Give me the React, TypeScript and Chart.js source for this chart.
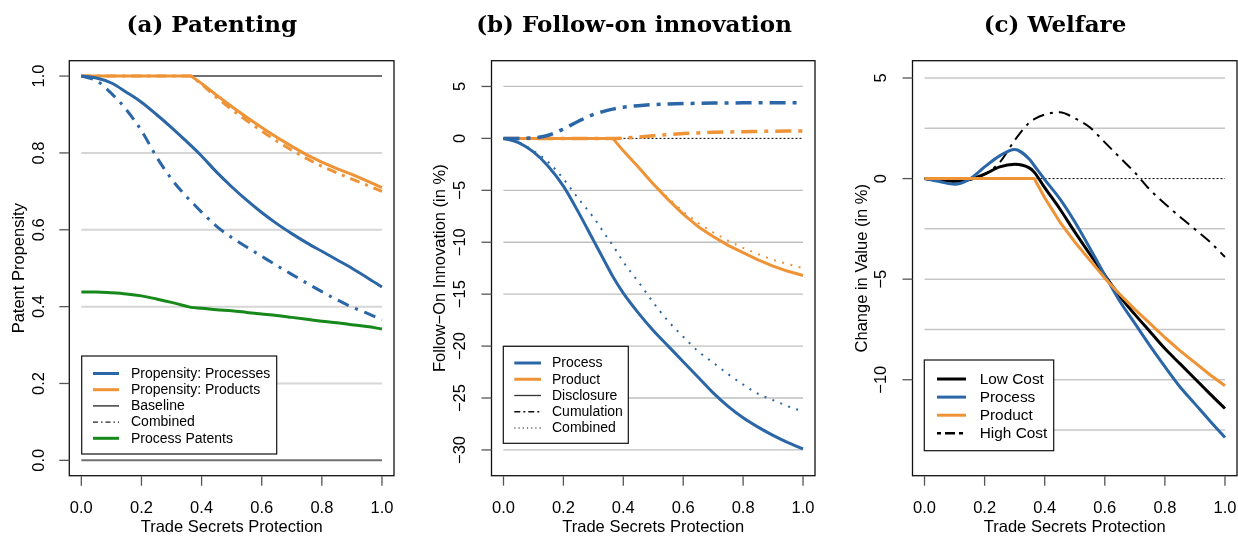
import React, { useEffect, useRef } from "react";
import { Chart, registerables } from "chart.js";

Chart.register(...registerables);

// ---------- shared x grid & ticks ----------
const XS = [0, 0.05, 0.1, 0.15, 0.2, 0.25, 0.3, 0.35, 0.365, 0.4, 0.45, 0.5, 0.55, 0.6, 0.65, 0.7, 0.75, 0.8, 0.85, 0.9, 0.95, 1.0];
const X_TICKS = [0, 0.2, 0.4, 0.6, 0.8, 1.0];
const X_TICK_LABELS = ["0.0", "0.2", "0.4", "0.6", "0.8", "1.0"];
const LINE_X = [0, 1];

// ---------- (a) Patenting ----------
const A_PROCESS = [1.0, 0.995, 0.982, 0.958, 0.932, 0.9, 0.866, 0.83, 0.819, 0.792, 0.75, 0.712, 0.677, 0.645, 0.616, 0.59, 0.566, 0.544, 0.522, 0.5, 0.476, 0.451];
const A_PROCESS_COMB = [1.0, 0.988, 0.955, 0.912, 0.858, 0.79, 0.732, 0.686, 0.674, 0.646, 0.609, 0.58, 0.555, 0.531, 0.507, 0.484, 0.461, 0.439, 0.418, 0.399, 0.383, 0.366];
const A_PRODUCT = [1, 1, 1, 1, 1, 1, 1, 1, 1, 0.981, 0.95, 0.921, 0.893, 0.866, 0.841, 0.817, 0.795, 0.776, 0.759, 0.744, 0.727, 0.71];
const A_PRODUCT_COMB = [1, 1, 1, 1, 1, 1, 1, 1, 1, 0.979, 0.944, 0.913, 0.884, 0.857, 0.831, 0.807, 0.785, 0.765, 0.748, 0.732, 0.716, 0.7];
const A_PATENTS = [0.438, 0.438, 0.436, 0.433, 0.428, 0.42, 0.411, 0.401, 0.398, 0.396, 0.392, 0.389, 0.385, 0.381, 0.377, 0.372, 0.367, 0.362, 0.358, 0.353, 0.348, 0.342];
const A_BASE_TOP = [1, 1];
const A_BASE_BOTTOM = [0, 0];
const A_Y_TICKS = [0, 0.2, 0.4, 0.6, 0.8, 1.0];
const A_Y_LABELS = ["0.0", "0.2", "0.4", "0.6", "0.8", "1.0"];
const A_GRID = [0.2, 0.4, 0.6, 0.8];

// ---------- (b) Follow-on innovation ----------
const B_PROCESS = [0, -0.4, -1.3, -2.7, -4.6, -7.1, -9.8, -12.5, -13.3, -14.9, -16.8, -18.5, -20.0, -21.5, -23.0, -24.5, -25.8, -26.9, -27.8, -28.6, -29.3, -29.9];
const B_PROCESS_COMB = [0, -0.35, -1.2, -2.3, -3.9, -5.8, -7.6, -9.7, -10.3, -11.9, -13.8, -15.8, -17.6, -19.1, -20.5, -21.6, -22.7, -23.7, -24.6, -25.2, -25.8, -26.3];
const B_PROCESS_CUM = [0, 0, 0.05, 0.3, 0.9, 1.65, 2.3, 2.72, 2.82, 3.0, 3.15, 3.25, 3.31, 3.35, 3.38, 3.4, 3.41, 3.42, 3.43, 3.43, 3.43, 3.43];
const B_PRODUCT = [0, 0, 0, 0, 0, 0, 0, 0, 0, -1.2, -2.75, -4.4, -5.9, -7.3, -8.5, -9.45, -10.3, -11.0, -11.7, -12.3, -12.8, -13.2];
const B_PRODUCT_COMB = [0, 0, 0, 0, 0, 0, 0, 0, 0, -1.2, -2.7, -4.35, -5.75, -7.05, -8.15, -9.05, -9.85, -10.55, -11.15, -11.7, -12.1, -12.5];
const B_PRODUCT_CUM = [0, 0, 0, 0, 0, 0, 0, 0, 0, 0.03, 0.12, 0.25, 0.37, 0.46, 0.53, 0.58, 0.62, 0.65, 0.67, 0.69, 0.7, 0.7];
const B_ZERO = [0, 0];
const B_Y_TICKS = [-30, -25, -20, -15, -10, -5, 0, 5];
const B_Y_LABELS = ["\u221230", "\u221225", "\u221220", "\u221215", "\u221210", "\u22125", "0", "5"];
const B_GRID = [5, -5, -10, -15, -20, -25, -30];

// ---------- (c) Welfare ----------
const C_LOW = [0, -0.08, -0.13, -0.05, 0.22, 0.58, 0.71, 0.52, 0.32, -0.45, -1.5, -2.65, -3.75, -4.8, -5.85, -6.75, -7.6, -8.45, -9.2, -9.95, -10.7, -11.43];
const C_PROCESS = [0, -0.15, -0.28, -0.03, 0.58, 1.13, 1.45, 0.95, 0.65, -0.05, -1.0, -2.15, -3.45, -4.8, -6.1, -7.2, -8.3, -9.35, -10.35, -11.2, -12.05, -12.87];
const C_PRODUCT = [0, 0, 0, 0, 0, 0, 0, 0, 0, -0.95, -2.15, -3.15, -4.05, -4.95, -5.75, -6.5, -7.2, -7.9, -8.55, -9.15, -9.75, -10.3];
const C_HIGH = [0, -0.08, -0.13, -0.05, 0.22, 0.8, 1.9, 2.8, 2.95, 3.18, 3.3, 3.0, 2.55, 1.8, 1.05, 0.3, -0.55, -1.25, -1.9, -2.52, -3.15, -3.9];
const C_ZERO = [0, 0];
const C_Y_TICKS = [-10, -5, 0, 5];
const C_Y_LABELS = ["\u221210", "\u22125", "0", "5"];
const C_GRID = [5, 2.5, -2.5, -5, -7.5, -10, -12.5];

// ---------- styles ----------
const BLUE = "#2b66a6";
const ORANGE = "#ef9337";
const GREEN = "#17891a";
const SANS = '"Liberation Sans", Arial, sans-serif';
const W = 1238;
const H = 536;
const BOX_TOP = 60.7;
const BOX_BOTTOM = 475.7;

type Item = { label: string; color: string; width: number; dash: number[] };

function ds(xs: number[], ys: number[], color: string, width: number, dash: number[] = [], straight = false) {
  return {
    data: xs.map((x, i) => ({ x, y: ys[i] })),
    borderColor: color,
    borderWidth: width,
    borderDash: dash,
    borderCapStyle: "butt",
    borderJoinStyle: "round",
    pointRadius: 0,
    pointHoverRadius: 0,
    fill: false,
    cubicInterpolationMode: straight ? "default" : "monotone",
    tension: 0,
  };
}

const PANELS = [
  {
    title: "(a) Patenting",
    boxLeft: 69.3,
    boxRight: 394,
    yMin: -0.04,
    yMax: 1.04,
    yTicks: A_Y_TICKS,
    yLabels: A_Y_LABELS,
    grid: A_GRID,
    gridColor: "#d6d6d6",
    gridWidth: 2,
    yTitle: "Patent Propensity",
    yLabelOff: 29.5,
    yTitleOff: 49.5,
    // bottom-to-top
    datasets: [
      ds(LINE_X, A_BASE_TOP, "#707070", 2),
      ds(LINE_X, A_BASE_BOTTOM, "#707070", 2),
      ds(XS, A_PRODUCT_COMB, ORANGE, 3, [10, 6, 3, 6], true),
      ds(XS, A_PRODUCT, ORANGE, 3, [], true),
      ds(XS, A_PROCESS_COMB, BLUE, 3, [12, 7, 3, 7]),
      ds(XS, A_PROCESS, BLUE, 3),
      ds(XS, A_PATENTS, GREEN, 3),
    ],
    legend: {
      left: 81.7, top: 356, right: 276.7, bottom: 454,
      row0: 373.5, step: 16.2, line0: 93, line1: 119, text: 131, font: 14,
      items: [
        { label: "Propensity: Processes", color: BLUE, width: 3, dash: [] },
        { label: "Propensity: Products", color: ORANGE, width: 3, dash: [] },
        { label: "Baseline", color: "#222", width: 1.3, dash: [] },
        { label: "Combined", color: "#222", width: 1.2, dash: [5, 3, 1.5, 3] },
        { label: "Process Patents", color: GREEN, width: 3, dash: [] },
      ] as Item[],
    },
  },
  {
    title: "(b) Follow-on innovation",
    boxLeft: 491.5,
    boxRight: 815,
    yMin: -32.48,
    yMax: 7.48,
    yTicks: B_Y_TICKS,
    yLabels: B_Y_LABELS,
    grid: B_GRID,
    gridColor: "#bfbfbf",
    gridWidth: 1.3,
    yTitle: "Follow\u2212On Innovation (in %)",
    yLabelOff: 31.5,
    yTitleOff: 51,
    datasets: [
      ds(LINE_X, B_ZERO, "#000", 1, [2, 2]),
      ds(XS, B_PRODUCT, ORANGE, 3, [], true),
      ds(XS, B_PRODUCT_COMB, ORANGE, 2, [2, 6.5], true),
      ds(XS, B_PRODUCT_CUM, ORANGE, 3.5, [16, 7, 4, 7]),
      ds(XS, B_PROCESS, BLUE, 3),
      ds(XS, B_PROCESS_COMB, BLUE, 2, [2, 6.5]),
      ds(XS, B_PROCESS_CUM, BLUE, 3.5, [16, 7, 4, 7]),
    ],
    legend: {
      left: 503.3, top: 346.3, right: 628.3, bottom: 443.3,
      row0: 363, step: 16.25, line0: 514.3, line1: 541, text: 552, font: 14,
      items: [
        { label: "Process", color: BLUE, width: 3, dash: [] },
        { label: "Product", color: ORANGE, width: 3, dash: [] },
        { label: "Disclosure", color: "#333", width: 1.3, dash: [] },
        { label: "Cumulation", color: "#111", width: 1.3, dash: [6, 3, 2, 3] },
        { label: "Combined", color: "#111", width: 1.2, dash: [1.2, 3] },
      ] as Item[],
    },
  },
  {
    title: "(c) Welfare",
    boxLeft: 912.5,
    boxRight: 1237,
    yMin: -14.77,
    yMax: 5.86,
    yTicks: C_Y_TICKS,
    yLabels: C_Y_LABELS,
    grid: C_GRID,
    gridColor: "#c6c6c6",
    gridWidth: 1.5,
    yTitle: "Change in Value (in %)",
    yLabelOff: 30.8,
    yTitleOff: 50.5,
    datasets: [
      ds(LINE_X, C_ZERO, "#000", 1, [2, 2]),
      ds(XS, C_HIGH, "#000", 2, [12, 6, 3, 6]),
      ds(XS, C_LOW, "#000", 3),
      ds(XS, C_PROCESS, BLUE, 3),
      ds(XS, C_PRODUCT, ORANGE, 3, [], true),
    ],
    legend: {
      left: 924.3, top: 360, right: 1053.7, bottom: 450.7,
      row0: 379, step: 18.1, line0: 937, line1: 966, text: 979.7, font: 15.4,
      items: [
        { label: "Low Cost", color: "#000", width: 3, dash: [] },
        { label: "Process", color: BLUE, width: 3, dash: [] },
        { label: "Product", color: ORANGE, width: 3, dash: [] },
        { label: "High Cost", color: "#000", width: 2.5, dash: [4, 4, 10, 4] },
      ] as Item[],
    },
  },
];

type Panel = (typeof PANELS)[number];

function framePlugin(p: Panel) {
  return {
    id: "rframe",
    beforeDatasetsDraw(chart: any) {
      const { ctx, scales } = chart;
      const x0 = scales.x.getPixelForValue(0);
      const x1 = scales.x.getPixelForValue(1);
      ctx.save();
      ctx.strokeStyle = p.gridColor;
      ctx.lineWidth = p.gridWidth;
      ctx.setLineDash([]);
      for (const v of p.grid) {
        const py = scales.y.getPixelForValue(v);
        ctx.beginPath();
        ctx.moveTo(x0, py);
        ctx.lineTo(x1, py);
        ctx.stroke();
      }
      ctx.restore();
    },
    afterDatasetsDraw(chart: any) {
      const { ctx, scales, chartArea } = chart;
      const { left, right, top, bottom } = chartArea;
      ctx.save();
      ctx.setLineDash([]);
      // box
      ctx.strokeStyle = "#111";
      ctx.lineWidth = 1.3;
      ctx.strokeRect(left, top, right - left, bottom - top);

      // y axis ticks + labels
      ctx.strokeStyle = "#555";
      ctx.lineWidth = 1.3;
      ctx.fillStyle = "#000";
      ctx.font = `16.5px ${SANS}`;
      p.yTicks.forEach((v, i) => {
        const py = scales.y.getPixelForValue(v);
        ctx.beginPath();
        ctx.moveTo(left, py);
        ctx.lineTo(left - 10, py);
        ctx.stroke();
        ctx.save();
        ctx.translate(left - p.yLabelOff, py);
        ctx.rotate(-Math.PI / 2);
        ctx.textAlign = "center";
        ctx.textBaseline = "middle";
        ctx.fillText(p.yLabels[i], 0, 0);
        ctx.restore();
      });
      // y title
      ctx.save();
      ctx.translate(left - p.yTitleOff, (top + bottom) / 2);
      ctx.rotate(-Math.PI / 2);
      ctx.textAlign = "center";
      ctx.textBaseline = "middle";
      ctx.fillText(p.yTitle, 0, 0);
      ctx.restore();

      // x axis ticks + labels
      X_TICKS.forEach((v, i) => {
        const px = scales.x.getPixelForValue(v);
        ctx.beginPath();
        ctx.moveTo(px, bottom + 0.5);
        ctx.lineTo(px, bottom + 10);
        ctx.stroke();
        ctx.textAlign = "center";
        ctx.textBaseline = "middle";
        ctx.fillText(X_TICK_LABELS[i], px, 508.5);
      });
      ctx.textAlign = "center";
      ctx.textBaseline = "middle";
      ctx.fillText("Trade Secrets Protection", (scales.x.getPixelForValue(0) + scales.x.getPixelForValue(1)) / 2, 527.5);

      // title
      ctx.font = `bold 23px "DejaVu Serif", "Liberation Serif", serif`;
      ctx.textAlign = "center";
      ctx.textBaseline = "alphabetic";
      ctx.fillText(p.title, left + 142.5, 32);

      // legend
      const L = p.legend;
      ctx.fillStyle = "#fff";
      ctx.fillRect(L.left, L.top, L.right - L.left, L.bottom - L.top);
      ctx.strokeStyle = "#111";
      ctx.lineWidth = 1.2;
      ctx.strokeRect(L.left, L.top, L.right - L.left, L.bottom - L.top);
      L.items.forEach((it, i) => {
        const y = L.row0 + i * L.step;
        ctx.strokeStyle = it.color;
        ctx.lineWidth = it.width;
        ctx.setLineDash(it.dash);
        ctx.lineCap = "butt";
        ctx.beginPath();
        ctx.moveTo(L.line0, y);
        ctx.lineTo(L.line1, y);
        ctx.stroke();
        ctx.setLineDash([]);
        ctx.fillStyle = "#000";
        ctx.font = `${L.font}px ${SANS}`;
        ctx.textAlign = "left";
        ctx.textBaseline = "middle";
        ctx.fillText(it.label, L.text, y + 0.5);
      });
      ctx.restore();
    },
  };
}

function PanelChart({ p }: { p: Panel }) {
  const ref = useRef<HTMLCanvasElement | null>(null);
  useEffect(() => {
    const n = p.datasets.length;
    const datasets = p.datasets.map((d, i) => ({ ...d, order: n - i }));
    const chart = new Chart(ref.current as HTMLCanvasElement, {
      type: "line",
      data: { datasets: datasets as any },
      options: {
        responsive: false,
        maintainAspectRatio: false,
        animation: false,
        events: [],
        layout: {
          padding: { left: p.boxLeft, right: W - p.boxRight, top: BOX_TOP, bottom: H - BOX_BOTTOM },
        },
        plugins: { legend: { display: false }, tooltip: { enabled: false }, title: { display: false } },
        scales: {
          x: { type: "linear", min: -0.04, max: 1.04, display: false },
          y: { type: "linear", min: p.yMin, max: p.yMax, display: false },
        },
      },
      plugins: [framePlugin(p)],
    } as any);
    return () => chart.destroy();
  }, [p]);
  return (
    <canvas
      ref={ref}
      width={W}
      height={H}
      style={{ position: "absolute", left: 0, top: 0, width: W, height: H }}
    />
  );
}

export default function App() {
  return (
    <div style={{ position: "fixed", left: 0, top: 0, width: W, height: H, background: "#fff", overflow: "hidden" }}>
      {PANELS.map((p, i) => (
        <PanelChart key={i} p={p} />
      ))}
    </div>
  );
}
